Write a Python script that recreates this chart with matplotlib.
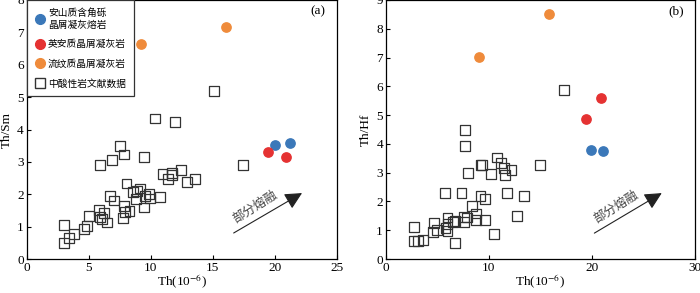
import matplotlib
matplotlib.use('Agg')
import matplotlib.pyplot as plt
from matplotlib.lines import Line2D

plt.rcParams['font.family'] = ['Liberation Serif', 'Noto Sans CJK SC']
plt.rcParams['mathtext.fontset'] = 'stix'
plt.rcParams['xtick.direction'] = 'in'
plt.rcParams['ytick.direction'] = 'in'

# (a) Th vs Th/Sm
lit_th_a = [3.0, 3.4, 3.8, 3.0, 4.65, 4.9, 5.0, 5.85, 5.95, 6.25, 6.1, 6.45,
            6.75, 7.05, 7.85, 7.75, 7.9, 8.3, 8.05, 8.6, 8.85, 9.15, 8.9,
            9.45, 9.55, 9.95, 9.9, 10.75, 5.9, 6.9, 7.55, 7.85, 9.45, 10.35,
            11.95, 10.95, 11.4, 11.75, 11.7, 12.45, 12.9, 13.6, 15.1, 17.45]
lit_ratio_a = [0.49, 0.64, 0.78, 1.05, 0.93, 1.03, 1.32, 1.52, 1.29, 1.42,
               1.24, 1.13, 1.95, 1.81, 1.63, 1.26, 1.46, 1.48, 2.33, 2.06,
               1.85, 2.18, 2.11, 1.59, 1.95, 1.87, 2.0, 1.92, 2.91, 3.05,
               3.49, 3.23, 3.16, 4.34, 4.23, 2.62, 2.47, 2.65, 2.6, 2.75,
               2.37, 2.47, 5.19, 2.91]
andesite_th_a = [20.0, 21.2]
andesite_ratio_a = [3.52, 3.58]
dacite_th_a = [19.5, 20.95]
dacite_ratio_a = [3.30, 3.14]
rhyolite_th_a = [9.25, 16.05]
rhyolite_ratio_a = [6.65, 7.17]

# (b) Th vs Th/Hf
lit_th_b = [2.75, 2.75, 3.15, 3.6, 4.6, 4.7, 5.0, 5.75, 5.8, 6.0, 6.0, 6.0,
            6.5, 6.7, 6.7, 7.35, 7.65, 7.65, 7.6, 7.6, 7.85, 8.0, 8.35,
            8.75, 8.75, 9.2, 9.3, 9.6, 9.65, 10.2, 10.5, 10.8, 11.15, 11.5,
            11.55, 11.75, 12.2, 12.7, 13.4, 14.95, 17.3, 9.2]
lit_ratio_b = [1.12, 0.63, 0.63, 0.65, 0.94, 1.26, 1.02, 2.28, 1.09, 1.21,
               1.44, 0.98, 1.30, 1.31, 0.57, 2.28, 4.47, 3.93, 1.47, 1.28,
               1.44, 2.98, 1.84, 1.58, 1.35, 2.19, 3.27, 2.08, 1.35, 2.95,
               0.88, 3.53, 3.35, 3.16, 2.92, 2.28, 3.09, 1.49, 2.19, 3.27,
               5.86, 3.28]
andesite_th_b = [19.9, 21.05]
andesite_ratio_b = [3.79, 3.76]
dacite_th_b = [19.4, 20.85]
dacite_ratio_b = [4.87, 5.58]
rhyolite_th_b = [9.05, 15.85]
rhyolite_ratio_b = [7.01, 8.53]

labels = ['安山质含角砾\n晶屑凝灰熔岩', '英安质晶屑凝灰岩', '流纹质晶屑凝灰岩',
          '中酸性岩文献数据']
c_blue = '#3b78b9'
c_red = '#e53232'
c_orange = '#ef8b3b'
cjk = ['Noto Sans CJK SC', 'DejaVu Sans']


def draw_panel(ax, lit_x, lit_y, and_x, and_y, dac_x, dac_y, rhy_x, rhy_y):
    ax.scatter(lit_x, lit_y, s=50, marker='s', facecolors='none',
               edgecolors='#333333', linewidths=0.9, zorder=2)
    ax.scatter(and_x, and_y, s=45, color=c_blue, zorder=3)
    ax.scatter(dac_x, dac_y, s=45, color=c_red, zorder=3)
    ax.scatter(rhy_x, rhy_y, s=45, color=c_orange, zorder=3)
    ax.tick_params(labelsize=9.5, length=3, width=0.8, pad=2,
                   top=False, right=False)
    for sp in ax.spines.values():
        sp.set_linewidth(0.9)


fig = plt.figure(figsize=(7, 2.93), dpi=100)
ax1 = fig.add_axes([0.038, 0.116, 0.443, 0.884])
ax2 = fig.add_axes([0.551, 0.116, 0.442, 0.884])

draw_panel(ax1, lit_th_a, lit_ratio_a, andesite_th_a, andesite_ratio_a,
           dacite_th_a, dacite_ratio_a, rhyolite_th_a, rhyolite_ratio_a)
ax1.set_xlim(0, 25)
ax1.set_ylim(0, 8)
ax1.set_xticks([0, 5, 10, 15, 20, 25])
ax1.set_yticks(range(0, 9))
ax1.set_xlabel('Th(10$^{-6}$)', fontsize=9.5, labelpad=-1)
ax1.set_ylabel('Th/Sm', fontsize=9.5, labelpad=3)
ax1.text(0.965, 0.955, '(a)', transform=ax1.transAxes, ha='right',
         va='center', fontsize=9.5)
ax1.annotate('', xy=(22.4, 2.08), xytext=(16.5, 0.76),
             arrowprops=dict(arrowstyle='-|>', mutation_scale=26, lw=0.8,
                             color='#222222'))
ax1.text(18.4, 1.6, '部分熔融', rotation=32, ha='center', va='center',
         fontsize=9, color='#444444', family=cjk)

handles = [Line2D([], [], marker='o', ls='', color=c_blue, markersize=7),
           Line2D([], [], marker='o', ls='', color=c_red, markersize=7),
           Line2D([], [], marker='o', ls='', color=c_orange, markersize=7),
           Line2D([], [], marker='s', ls='', markerfacecolor='none',
                  markeredgecolor='#333333', markersize=6.5)]
leg = ax1.legend(handles, labels, loc='upper left', borderaxespad=0,
                 fancybox=False, framealpha=1, edgecolor='#333333',
                 prop={'family': cjk, 'size': 7}, handletextpad=0.2,
                 handlelength=1.2, labelspacing=1.0, borderpad=0.8)
leg.get_frame().set_linewidth(0.9)

draw_panel(ax2, lit_th_b, lit_ratio_b, andesite_th_b, andesite_ratio_b,
           dacite_th_b, dacite_ratio_b, rhyolite_th_b, rhyolite_ratio_b)
ax2.set_xlim(0, 30)
ax2.set_ylim(0, 9)
ax2.set_xticks([0, 10, 20, 30])
ax2.set_yticks(range(0, 10))
ax2.set_xlabel('Th(10$^{-6}$)', fontsize=9.5, labelpad=-1)
ax2.set_ylabel('Th/Hf', fontsize=9.5, labelpad=3)
ax2.text(0.965, 0.955, '(b)', transform=ax2.transAxes, ha='right',
         va='center', fontsize=9.5)
ax2.annotate('', xy=(27.0, 2.34), xytext=(20.0, 0.85),
             arrowprops=dict(arrowstyle='-|>', mutation_scale=26, lw=0.8,
                             color='#222222'))
ax2.text(22.3, 1.8, '部分熔融', rotation=32, ha='center', va='center',
         fontsize=9, color='#444444', family=cjk)

fig.savefig('out.png', dpi=100)
